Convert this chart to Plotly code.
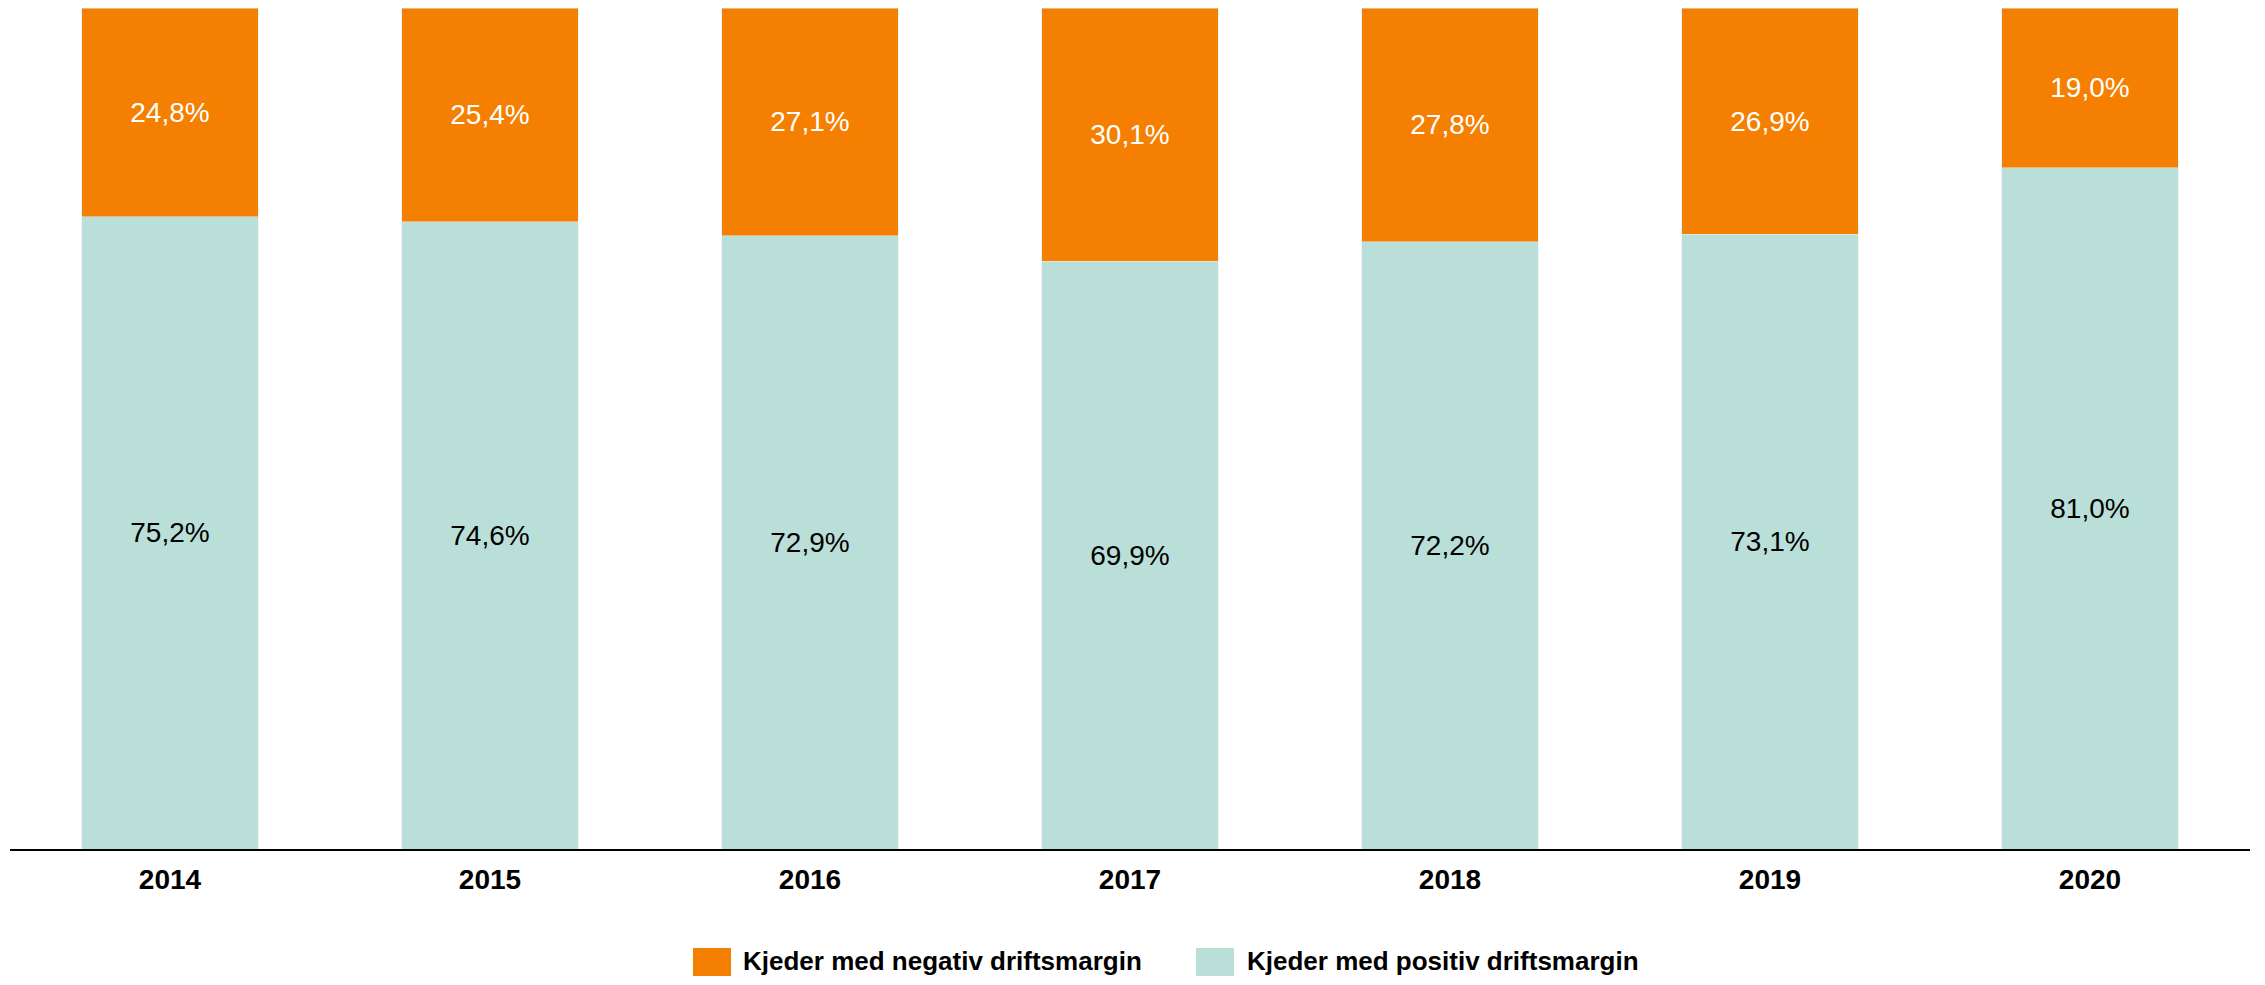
import plotly.graph_objects as go

years = ["2014", "2015", "2016", "2017", "2018", "2019", "2020"]
negative = [24.8, 25.4, 27.1, 30.1, 27.8, 26.9, 19.0]
positive = [75.2, 74.6, 72.9, 69.9, 72.2, 73.1, 81.0]
series_names = ["Kjeder med negativ driftsmargin", "Kjeder med positiv driftsmargin"]

ORANGE = "#F57F00"
TEAL = "#B9DFD8"

# page has an 8px body margin; size the figure so it fits without scrollbars
OFF = 8
W, H = 2265 - 2 * OFF, 985 - 2 * OFF
ML, MR, MT, MB = 10 - OFF, W - (2250 - OFF), 0, H - (849 - OFF)
PW, PH = W - ML - MR, H - MT - MB


def fmt(v):
    return f"{v:.1f}".replace(".", ",") + "%"


def px_x(p):
    return (p - OFF - ML) / PW


def px_y(p):
    return (H - MB - (p - OFF)) / PH


fig = go.Figure()
fig.add_trace(go.Bar(
    x=years, y=positive, name=series_names[1], marker_color=TEAL,
    text=[fmt(v) for v in positive], textposition="inside", insidetextanchor="middle",
    textangle=0, insidetextfont=dict(family="Liberation Sans", size=28, color="black"),
    showlegend=False,
))
fig.add_trace(go.Bar(
    x=years, y=negative, name=series_names[0], marker_color=ORANGE,
    text=[fmt(v) for v in negative], textposition="inside", insidetextanchor="middle",
    textangle=0, insidetextfont=dict(family="Liberation Sans", size=28, color="white"),
    showlegend=False,
))

# custom legend (swatches + labels)
legend_items = [
    (ORANGE, series_names[0], 693, 731, 741),
    (TEAL, series_names[1], 1196, 1234, 1245),
]
for color, name, sx0, sx1, tx in legend_items:
    fig.add_shape(type="rect", xref="paper", yref="paper",
                  x0=px_x(sx0), x1=px_x(sx1), y0=px_y(976), y1=px_y(948),
                  fillcolor=color, line=dict(width=0))
    fig.add_annotation(xref="paper", yref="paper", x=px_x(tx), y=px_y(961),
                       xanchor="left", yanchor="middle", showarrow=False,
                       text=name,
                       font=dict(family="Liberation Sans", size=26, color="black", weight="bold"))

fig.update_layout(
    width=W, height=H,
    margin=dict(l=ML, r=MR, t=MT, b=MB, pad=0),
    barmode="stack", bargap=0.447,
    plot_bgcolor="white", paper_bgcolor="white",
    showlegend=False,
    xaxis=dict(showline=True, linecolor="black", linewidth=2, showgrid=False,
               ticks="outside", ticklen=4, tickcolor="white",
               tickfont=dict(family="Liberation Sans", size=28, color="black", weight="bold")),
    yaxis=dict(range=[0, 100], visible=False, showgrid=False, zeroline=False),
)

fig.write_html("out.html")
